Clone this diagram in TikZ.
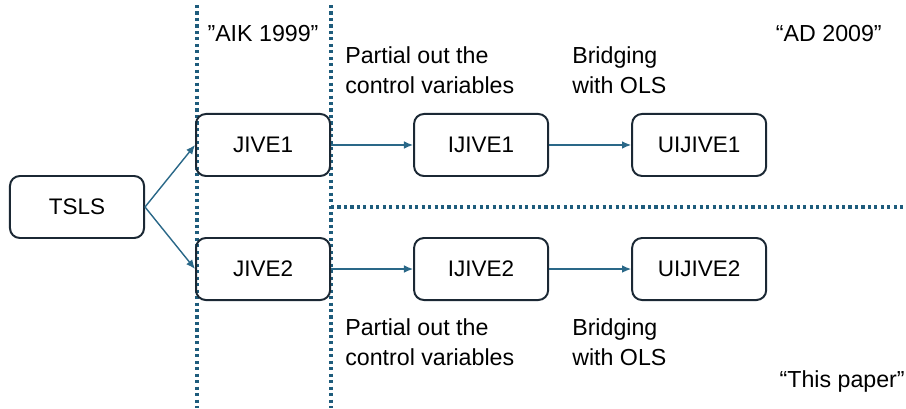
\documentclass[tikz,border=0pt]{standalone}
\usepackage{fontspec}
\setmainfont{Liberation Sans}
\usetikzlibrary{positioning, arrows.meta}

\definecolor{boxline}{RGB}{27,40,52}
\definecolor{arrowblue}{RGB}{42,104,136}
\definecolor{sepblue}{RGB}{30,92,124}

\begin{document}
\begin{tikzpicture}[x=0.025cm, y=-0.025cm]
    \tikzstyle{estbox}=[draw=boxline, line width=1.4pt, rounded corners=7pt, minimum width=3.35cm, minimum height=1.55cm, font=\fontsize{16}{19}\selectfont]
    \tikzstyle{note}=[align=left, inner sep=0pt, font=\fontsize{16.5}{21}\selectfont]
    \tikzstyle{sep}=[sepblue, line width=2.4pt, dash pattern=on 2.2pt off 2.4pt]
    \tikzstyle{link}=[arrowblue, line width=1pt, -{Latex[length=6.5pt, width=5.5pt]}]
    \tikzset{node distance=5.45cm}

    \useasboundingbox (0,0) rectangle (906,408);

    % separators
    \draw[sep] (197,5) -- (197,408);
    \draw[sep] (331,5) -- (331,408);
    \draw[sep] (331,207) -- (906,207);

    \node[estbox] at (77,207) (tsls) {TSLS};
    \node[estbox, right of=tsls, xshift=-0.8cm, yshift=1.55cm] (jive1) {JIVE1};
    \node[estbox, right of=tsls, xshift=-0.8cm, yshift=-1.55cm] (jive2) {JIVE2};
    \node[estbox, right of=jive1] (ijive1) {IJIVE1};
    \node[estbox, right of=ijive1] (uijive1) {UIJIVE1};
    \node[estbox, right of=jive2] (ijive2) {IJIVE2};
    \node[estbox, right of=ijive2] (uijive2) {UIJIVE2};

    \draw[link] (tsls.east) -- (jive1.west);
    \draw[link] (tsls.east) -- (jive2.west);
    \draw[link] (jive1) -- (ijive1);
    \draw[link] (ijive1) -- (uijive1);
    \draw[link] (jive2) -- (ijive2);
    \draw[link] (ijive2) -- (uijive2);

    % labels
    \node[note] at (263,34) (aik) {\symbol{"22}AIK 1999”};
    \node[note, anchor=east] at (882,34) (ad) {“AD 2009”};
    \node[note, anchor=east] at (905,381) (paper) {“This paper”};
    \node[note, anchor=west] at (345,70) (pout1) {Partial out the\\control variables};
    \node[note, anchor=west] at (572,70) (brid1) {Bridging\\with OLS};
    \node[note, anchor=west] at (345,342) (pout2) {Partial out the\\control variables};
    \node[note, anchor=west] at (572,342) (brid2) {Bridging\\with OLS};
\end{tikzpicture}
\end{document}
